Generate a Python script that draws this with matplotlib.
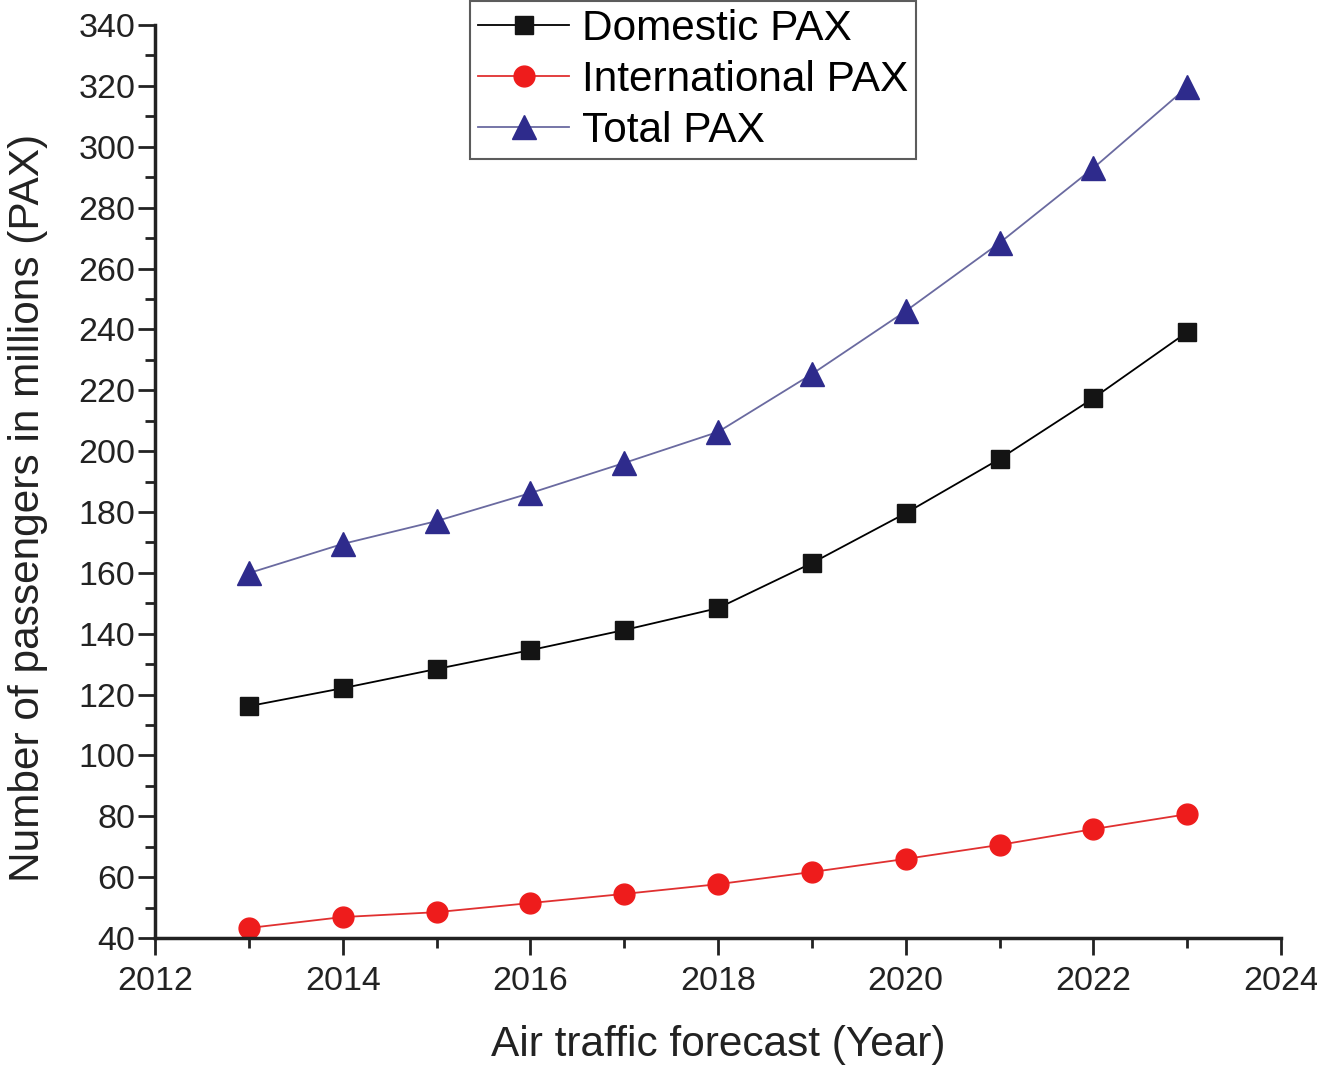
import numpy as np
import matplotlib
matplotlib.use('Agg')
import matplotlib.pyplot as plt
from matplotlib.ticker import MultipleLocator

plt.rcParams['font.family'] = ['Liberation Sans', 'DejaVu Sans']

# forecast years and passenger numbers (millions)
years = [2013, 2014, 2015, 2016, 2017, 2018, 2019, 2020, 2021, 2022, 2023]
domestic = [116.2, 122.1, 128.4, 134.6, 141.2, 148.4, 163.2, 179.6, 197.4, 217.4, 239.1]
international = [43.3, 46.9, 48.5, 51.5, 54.5, 57.7, 61.7, 66.0, 70.6, 75.8, 80.7]
total = [159.9, 169.5, 177.0, 186.2, 196.1, 206.3, 225.3, 246.0, 268.4, 293.0, 319.6]

fig = plt.figure(figsize=(13.17, 10.65), dpi=100)
ax = fig.add_axes([0.1177, 0.1192, 0.855, 0.8573])

ax.plot(years, domestic, color='black', lw=1.3, marker='s', ms=13.5,
        mfc='#141414', mec='#141414', label='Domestic PAX')
ax.plot(years, international, color='#e03030', lw=1.3, marker='o', ms=15,
        mfc='#ee1c1c', mec='#ee1c1c', label='International PAX')
ax.plot(years, total, color='#6a6aa0', lw=1.3, marker='^', ms=17,
        mfc='#2e2b8c', mec='#2e2b8c', label='Total PAX')

ax.set_xlim(2012, 2024)
ax.set_ylim(40, 340)
ax.xaxis.set_major_locator(MultipleLocator(2))
ax.xaxis.set_minor_locator(MultipleLocator(1))
ax.yaxis.set_major_locator(MultipleLocator(20))
ax.yaxis.set_minor_locator(MultipleLocator(10))

for side in ['top', 'right']:
    ax.spines[side].set_visible(False)
for side in ['left', 'bottom']:
    ax.spines[side].set_linewidth(2.5)
    ax.spines[side].set_color('#222222')

ax.tick_params(which='major', direction='out', length=12, width=2,
               labelsize=24.5, colors='#222222')
ax.tick_params(axis='x', pad=8)
ax.tick_params(axis='y', pad=2)
ax.tick_params(which='minor', direction='out', length=7, width=2,
               colors='#222222')

ax.set_xlabel('Air traffic forecast (Year)', fontsize=30.5, color='#222222', labelpad=20)
ax.set_ylabel('Number of passengers in millions (PAX)', fontsize=30.5,
              color='#222222')
ax.yaxis.set_label_coords(-0.095, 0.471)

leg = ax.legend(loc='upper left', bbox_to_anchor=(0.357, 0.999),
                bbox_transform=fig.transFigure, fontsize=30.5, frameon=True,
                fancybox=False, handlelength=2.15, handletextpad=0.3,
                borderpad=0.19, labelspacing=0.26, borderaxespad=0)
leg.get_frame().set_edgecolor('#333333')
leg.get_frame().set_linewidth(1.5)

fig.savefig('out.png', dpi=100)
